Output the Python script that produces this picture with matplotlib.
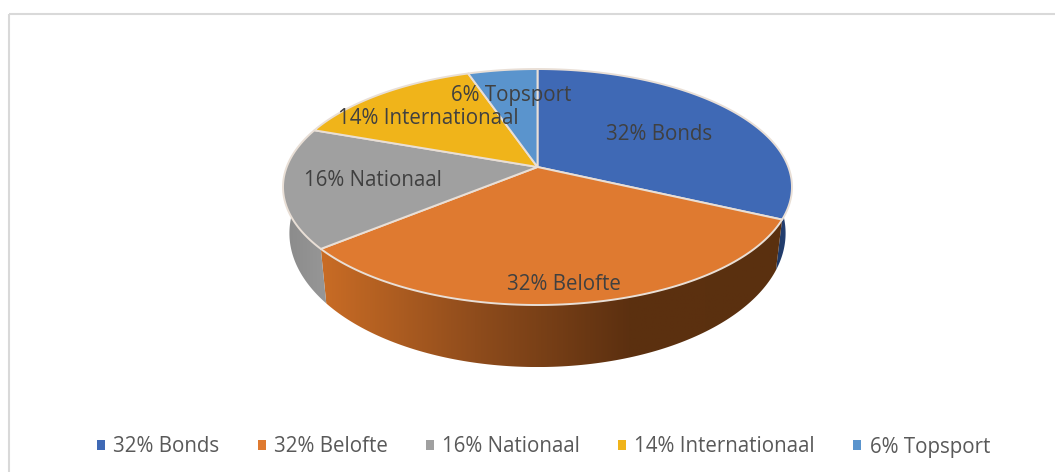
import numpy as np
import matplotlib.pyplot as plt
from matplotlib.patches import Patch, Polygon, Rectangle
from matplotlib.colors import LinearSegmentedColormap

labels = ["32% Bonds", "32% Belofte", "16% Nationaal", "14% Internationaal", "6% Topsport"]
# slice shares as measured on the picture, the text labels are rounded differently
shares = [32, 32, 16.5, 14.3, 5.2]
colors = ["#3f69b5", "#df7a30", "#a0a0a0", "#f0b41a", "#5a94cd"]
wall_stops = [
    ["#1f3864", "#27457c"],
    ["#c96c25", "#8f4c1c", "#5c3010", "#5a300f"],
    ["#8a8a8a", "#979797"],
    ["#8a6a10", "#8a6a10"],
    ["#30557a", "#30557a"],
]

plt.rcParams['font.family'] = ['Open Sans', 'DejaVu Sans']

# perspective of the disc, in pixels
cx, cy = 537.5, 167
k = 0.1696
top_a, top_b = 114.6, 250.8
low_y, low_a, low_b = 210.5, 130, 244.5


def rim(ang, y0, a, b):
    t = np.radians(ang)
    u, v = np.sin(t), np.cos(t)
    d = 1 + k * v
    return cx + b * u / d, y0 - a * v / d


fig = plt.figure(figsize=(10.55, 4.72), dpi=100)
ax = fig.add_axes([0, 0, 1, 1])
ax.axis('off')

# only top and left of the frame are inside the crop
ax.add_patch(Rectangle((8.5, 13.5), 1100, 500, fill=False, ec="#d9d9d9", lw=1.5))

edges = np.concatenate([[0], np.cumsum(shares)]) / np.sum(shares) * 360

# walls first
for i in range(len(shares)):
    a0, a1 = max(edges[i], 85), min(edges[i + 1], 282)
    if a1 <= a0:
        continue
    t = np.linspace(a0, a1, 120)
    ux, uy = rim(t, cy, top_a, top_b)
    lx, ly = rim(t, low_y, low_a, low_b)
    pts = np.column_stack([np.r_[ux, lx[::-1]], np.r_[uy, ly[::-1]]])
    poly = Polygon(pts, closed=True, fc="none", ec="none")
    ax.add_patch(poly)
    cmap = LinearSegmentedColormap.from_list("w", wall_stops[i])
    grad = np.linspace(0, 1, 256).reshape(1, -1)
    im = ax.imshow(grad, cmap=cmap, aspect='auto', zorder=2,
                   extent=[pts[:, 0].min(), pts[:, 0].max(), pts[:, 1].max(), pts[:, 1].min()])
    im.set_clip_path(poly)
ax.set_xlim(0, 1055)
ax.set_ylim(472, 0)

# top face
for i in range(len(shares)):
    t = np.linspace(edges[i], edges[i + 1], 120)
    x, y = rim(t, cy, top_a, top_b)
    pts = np.column_stack([np.r_[cx, x], np.r_[cy, y]])
    ax.add_patch(Polygon(pts, closed=True, fc=colors[i], ec="#e9dfd6", lw=1.4, zorder=3))

# data labels
label_xy = [(659, 134.5), (564, 284.5), (373, 181), (428.5, 118), (511, 96)]
for txt, (x, y) in zip(labels, label_xy):
    ax.text(x, y, txt, ha='center', va='center', fontsize=14.8, color="#404040", zorder=4)

handles = [Patch(fc=c, ec='none') for c in colors]
ax.legend(handles, labels, loc='center', bbox_to_anchor=(543.5 / 1055, 1 - 447 / 472),
          ncol=5, frameon=False, fontsize=14.8, labelcolor="#595959",
          handlelength=0.38, handleheight=0.4, handletextpad=0.4, columnspacing=1.87)

fig.savefig("out.png", dpi=100)
